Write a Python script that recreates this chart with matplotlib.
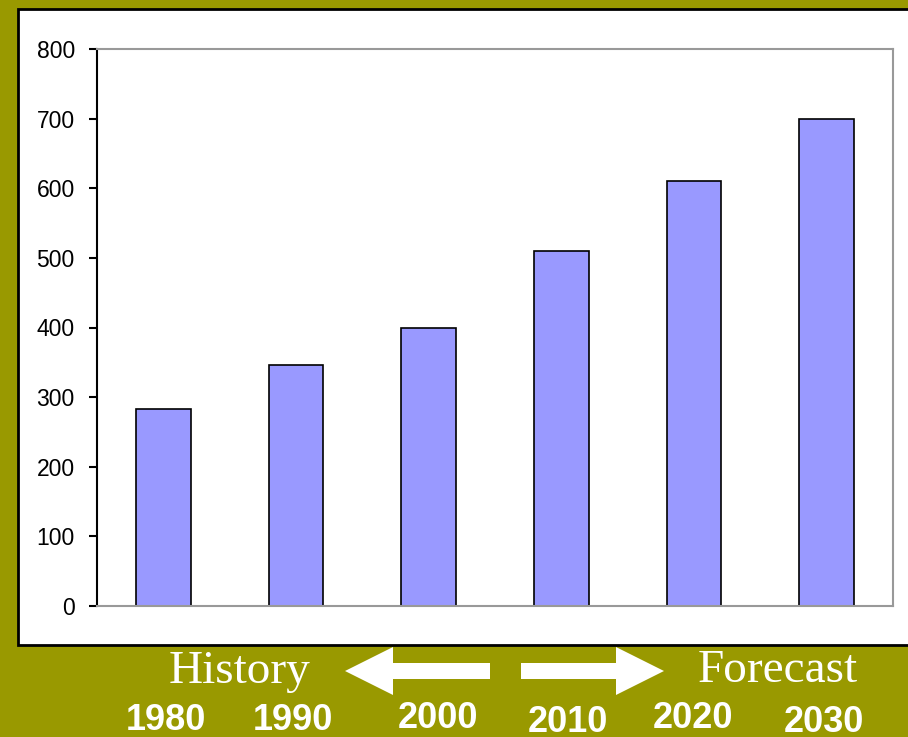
import matplotlib.pyplot as plt
from matplotlib.patches import Rectangle, FancyArrow

years = ["1980", "1990", "2000", "2010", "2020", "2030"]
values = [283, 346, 400, 510, 611, 700]
# label placement below the chart (pixel positions in the slide)
year_x = [166, 293, 438, 568, 693, 824]
year_y = [720, 720, 719, 722, 718, 722]

olive = "#999900"
W, H = 908, 737

fig = plt.figure(figsize=(W / 100, H / 100), dpi=100, facecolor=olive)

# background decoration layer in pixel coordinates
deco = fig.add_axes([0, 0, 1, 1], zorder=0)
deco.set_xlim(0, W)
deco.set_ylim(H, 0)
deco.axis("off")
deco.add_patch(Rectangle((18, 9), 900, 636, facecolor="white",
                         edgecolor="black", linewidth=2))

# arrows
deco.add_patch(FancyArrow(490, 671, -145, 0, width=16, head_width=48,
                          head_length=48, length_includes_head=True,
                          color="white", linewidth=0))
deco.add_patch(FancyArrow(521, 671, 143, 0, width=16, head_width=48,
                          head_length=48, length_includes_head=True,
                          color="white", linewidth=0))

deco.text(240, 672, "History", color="white", fontsize=34,
          family="Liberation Serif", ha="center", va="center")
deco.text(778, 671, "Forecast", color="white", fontsize=34,
          family="Liberation Serif", ha="center", va="center")
for x, y, lab in zip(year_x, year_y, years):
    deco.text(x, y, lab, color="white", fontsize=26, fontweight="bold",
              family="Liberation Sans", ha="center", va="center")

# main chart
left, right, top, bottom = 97, 893, 49, 606
ax = fig.add_axes([left / W, 1 - bottom / H, (right - left) / W, (bottom - top) / H],
                  zorder=1)
ax.set_facecolor("none")
ax.bar(range(len(values)), values, width=0.41, color="#9999ff",
       edgecolor="black", linewidth=1.2)
ax.set_xlim(-0.5, len(values) - 0.5)
ax.set_ylim(0, 800)
ax.set_yticks(range(0, 801, 100))
ax.set_xticks([])
for s in ["top", "right", "bottom"]:
    ax.spines[s].set_color("#999999")
    ax.spines[s].set_linewidth(1.5)
ax.spines["left"].set_color("black")
ax.spines["left"].set_linewidth(1.5)
ax.tick_params(axis="y", direction="out", length=6, width=1.5, pad=10,
               labelsize=16.5)
for t in ax.get_yticklabels():
    t.set_family("Liberation Sans")

plt.savefig("out.png", dpi=100, facecolor=olive)
